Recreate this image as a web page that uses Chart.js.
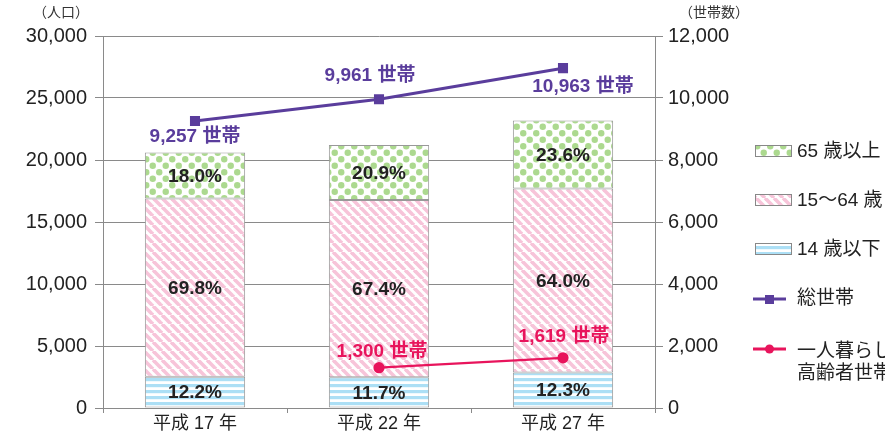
<!DOCTYPE html>
<html lang="ja">
<head>
<meta charset="utf-8">
<script src="https://cdn.jsdelivr.net/npm/chart.js@4/dist/chart.umd.min.js"></script>
<style>
  html, body { margin: 0; padding: 0; background: #fff; }
  #wrap { width: 885px; height: 436px; position: relative; }
</style>
</head>
<body>
<div id="wrap"><canvas id="chart"></canvas></div>
<script>
// --- DATA ---
const categories = ['平成 17 年', '平成 22 年', '平成 27 年'];
const popUnder15 = [2513, 2480, 2854];
const pop15to64 = [14379, 14289, 14848];
const pop65over = [3708, 4431, 5475];
const pctUnder15 = ['12.2%', '11.7%', '12.3%'];
const pct15to64 = ['69.8%', '67.4%', '64.0%'];
const pct65over = ['18.0%', '20.9%', '23.6%'];
const totalHouseholds = [9257, 9961, 10963];
const elderlySingle = [null, 1300, 1619];
const leftTicks = [0, 5000, 10000, 15000, 20000, 25000, 30000];
const rightTicks = [0, 2000, 4000, 6000, 8000, 10000, 12000];

const FONT = '"Liberation Sans", "Noto Sans CJK JP", sans-serif';
const PURPLE = '#5a3d9c';
const PINK = '#e8145c';

// --- PATTERNS ---
function makeDots() {
    const c = document.createElement('canvas');
    c.width = 13; c.height = 13;
    const g = c.getContext('2d');
    g.fillStyle = '#fff'; g.fillRect(0, 0, 13, 13);
    g.fillStyle = '#acd98f';
    [[3.25, 3.25], [9.75, 9.75]].forEach(([x, y]) => {
        g.beginPath(); g.arc(x, y, 3.2, 0, Math.PI * 2); g.fill();
    });
    return g.createPattern(c, 'repeat');
}
function makeDiag() {
    const c = document.createElement('canvas');
    c.width = 9; c.height = 9;
    const g = c.getContext('2d');
    g.fillStyle = '#fff'; g.fillRect(0, 0, 9, 9);
    g.strokeStyle = '#f7c4d9'; g.lineWidth = 3.6;
    for (let k = -1; k <= 1; k++) {
        g.beginPath(); g.moveTo(k * 9, 0); g.lineTo(k * 9 + 9, 9); g.stroke();
    }
    return g.createPattern(c, 'repeat');
}
function makeHoriz() {
    const c = document.createElement('canvas');
    c.width = 6; c.height = 6;
    const g = c.getContext('2d');
    g.fillStyle = '#fff'; g.fillRect(0, 0, 6, 6);
    g.fillStyle = '#acdff5'; g.fillRect(0, 0, 6, 3.2);
    return g.createPattern(c, 'repeat');
}
const dotsPat = makeDots();
const diagPat = makeDiag();
const horizPat = makeHoriz();

// --- PLUGINS ---
const labelsPlugin = {
    id: 'labels',
    afterDatasetsDraw(chart) {
        const ctx = chart.ctx;
        ctx.save();
        ctx.textAlign = 'center';
        ctx.textBaseline = 'middle';
        ctx.font = 'bold 19px ' + FONT;
        ctx.fillStyle = '#222';
        const pcts = [pctUnder15, pct15to64, pct65over];
        [0, 1, 2].forEach(di => {
            chart.getDatasetMeta(di).data.forEach((bar, i) => {
                const mid = (bar.y + bar.base) / 2;
                ctx.fillText(pcts[di][i], bar.x, mid + 1);
            });
        });
        ctx.font = 'bold 19px ' + FONT;
        // total households labels
        const offs = [[0, 16], [-9, -23], [20, 19]];
        ctx.fillStyle = PURPLE;
        chart.getDatasetMeta(3).data.forEach((p, i) => {
            ctx.fillText(totalHouseholds[i].toLocaleString('en-US') + ' 世帯', p.x + offs[i][0], p.y + offs[i][1]);
        });
        ctx.fillStyle = PINK;
        const offs2 = [null, [3, -16], [1, -21]];
        chart.getDatasetMeta(4).data.forEach((p, i) => {
            if (elderlySingle[i] == null) return;
            ctx.fillText(elderlySingle[i].toLocaleString('en-US') + ' 世帯', p.x + offs2[i][0], p.y + offs2[i][1]);
        });
        // axis titles
        ctx.font = '14px ' + FONT;
        ctx.fillStyle = '#333';
        ctx.fillText('（人口）', 61, 13);
        ctx.fillText('（世帯数）', 714, 13);
        ctx.restore();
    }
};

const legendPlugin = {
    id: 'sideLegend',
    afterDraw(chart) {
        const ctx = chart.ctx;
        ctx.save();
        ctx.font = '19px ' + FONT;
        ctx.textBaseline = 'middle';
        ctx.textAlign = 'left';
        const boxes = [[dotsPat, 151, '65 歳以上'], [diagPat, 200, '15～64 歳'], [horizPat, 249, '14 歳以下']];
        boxes.forEach(([pat, y, txt]) => {
            ctx.fillStyle = pat;
            ctx.fillRect(756, y - 5, 35, 10);
            ctx.strokeStyle = '#888'; ctx.lineWidth = 1;
            ctx.strokeRect(755.5, y - 5.5, 36, 11);
            ctx.fillStyle = '#222';
            ctx.fillText(txt, 797, y + 1);
        });
        // 総世帯
        ctx.strokeStyle = PURPLE; ctx.lineWidth = 3;
        ctx.beginPath(); ctx.moveTo(753, 299); ctx.lineTo(786, 299); ctx.stroke();
        ctx.fillStyle = PURPLE; ctx.fillRect(765, 295, 9, 9);
        ctx.fillStyle = '#222';
        ctx.fillText('総世帯', 797, 299);
        // 一人暮らし高齢者世帯
        ctx.strokeStyle = PINK;
        ctx.beginPath(); ctx.moveTo(753, 349); ctx.lineTo(786, 349); ctx.stroke();
        ctx.fillStyle = PINK;
        ctx.beginPath(); ctx.arc(769.5, 349, 4.5, 0, Math.PI * 2); ctx.fill();
        ctx.fillStyle = '#222';
        ctx.fillText('一人暮らし', 797, 352);
        ctx.fillText('高齢者世帯', 797, 374);
        ctx.restore();
    }
};

// --- CHART ---
const gridColor = '#8a8a8a';
new Chart(document.getElementById('chart'), {
    data: {
        labels: categories,
        datasets: [
            { type: 'bar', label: '14 歳以下', data: popUnder15, backgroundColor: horizPat, borderColor: '#999', borderWidth: 1, borderSkipped: false, order: 1, barPercentage: 0.545, categoryPercentage: 1 },
            { type: 'bar', label: '15～64 歳', data: pop15to64, backgroundColor: diagPat, borderColor: '#999', borderWidth: 1, borderSkipped: false, order: 1, barPercentage: 0.545, categoryPercentage: 1 },
            { type: 'bar', label: '65 歳以上', data: pop65over, backgroundColor: dotsPat, borderColor: '#999', borderWidth: 1, borderSkipped: false, order: 1, barPercentage: 0.545, categoryPercentage: 1 },
            { type: 'line', label: '総世帯', data: totalHouseholds, yAxisID: 'y1', borderColor: PURPLE, borderWidth: 3, pointStyle: 'rect', pointRadius: 5, pointBackgroundColor: PURPLE, pointBorderColor: PURPLE, order: 0, stack: 'l1' },
            { type: 'line', label: '一人暮らし高齢者世帯', data: elderlySingle, yAxisID: 'y1', borderColor: PINK, borderWidth: 2.2, pointStyle: 'circle', pointRadius: 4.5, pointBackgroundColor: PINK, pointBorderColor: PINK, order: 0, stack: 'l2' }
        ]
    },
    options: {
        responsive: true,
        maintainAspectRatio: false,
        animation: false,
        layout: { padding: { left: 0, right: 130, top: 36, bottom: 0 } },
        plugins: { legend: { display: false }, tooltip: { enabled: false } },
        scales: {
            x: {
                stacked: true,
                offset: true,
                grid: { offset: true, drawOnChartArea: false, color: gridColor, tickLength: 5 },
                border: { color: gridColor },
                ticks: { color: '#222', font: { size: 18, family: FONT }, padding: 0 },
                afterFit(s) { s.height = 28; }
            },
            y: {
                stacked: true,
                min: 0, max: 30000,
                afterBuildTicks(s) { s.ticks = leftTicks.map(v => ({ value: v })); },
                grid: { color: gridColor, tickLength: 8 },
                border: { color: gridColor },
                ticks: { color: '#222', font: { size: 20, family: FONT }, padding: 8, callback: v => v.toLocaleString('en-US') },
                afterFit(s) { s.width = 103; }
            },
            y1: {
                position: 'right',
                stacked: false,
                min: 0, max: 12000,
                afterBuildTicks(s) { s.ticks = rightTicks.map(v => ({ value: v })); },
                grid: { drawOnChartArea: false, color: gridColor, tickLength: 8 },
                border: { color: gridColor },
                ticks: { color: '#222', font: { size: 20, family: FONT }, padding: 5, callback: v => v.toLocaleString('en-US') },
                afterFit(s) { s.width = 100; }
            }
        }
    },
    plugins: [labelsPlugin, legendPlugin]
});
</script>
</body>
</html>
